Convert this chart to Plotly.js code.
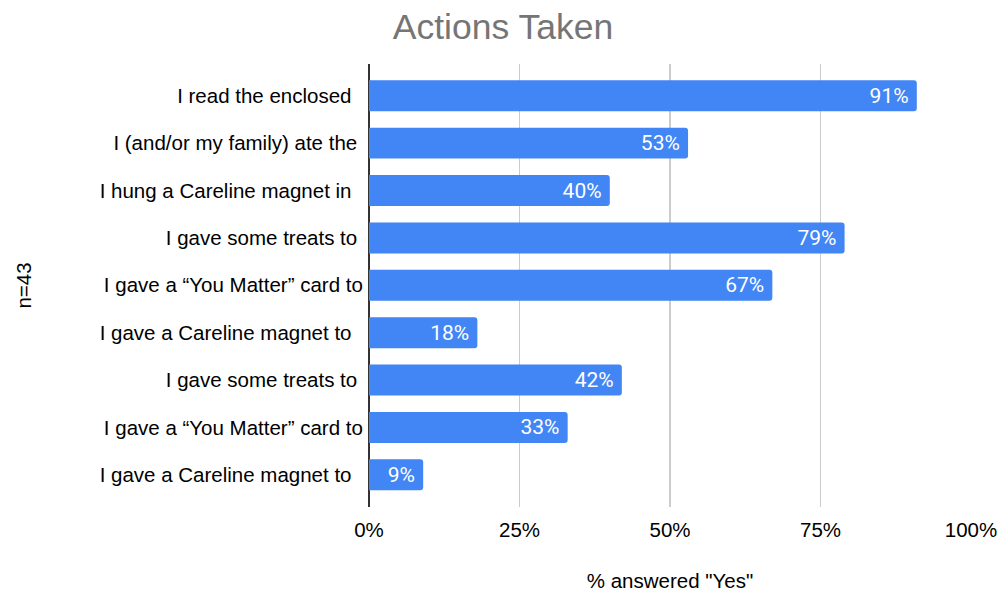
<!DOCTYPE html>
<html>
<head>
<meta charset="utf-8">
<script src="https://cdn.plot.ly/plotly-3.0.1.min.js"></script>
<style>
  html, body { margin: 0; padding: 0; background: #fff; }
  #chart { width: 1006px; height: 592px; }
</style>
</head>
<body>
<div id="chart"></div>
<script>
// ---- data ----
const categories = [
  "I read the enclosed",
  "I (and/or my family) ate the",
  "I hung a Careline magnet in",
  "I gave some treats to",
  "I gave a “You Matter” card to",
  "I gave a Careline magnet to",
  "I gave some treats to",
  "I gave a “You Matter” card to",
  "I gave a Careline magnet to"
];
const values = [0.91, 0.53, 0.40, 0.79, 0.67, 0.18, 0.42, 0.33, 0.09];
const chartTitle = "Actions Taken";
const xTitle = "% answered \"Yes\"";
const yTitle = "n=43";

// trailing spacing in the original labels (number of spaces)
const labelPad = [2, 1, 2, 1, 0, 2, 1, 0, 2];

const positions = categories.map((_, i) => i);
const tickText = categories.map((c, i) => c + "\u00a0".repeat(labelPad[i]));

const trace = {
  type: "bar",
  orientation: "h",
  x: values,
  y: positions,
  marker: { color: "#4285f4" },
  texttemplate: "%{x:.0%}\u00a0",
  textposition: "inside",
  insidetextanchor: "end",
  textfont: { family: "Roboto, Arial, sans-serif", size: 21, color: "#ffffff" },
  hoverinfo: "skip",
  cliponaxis: false
};

const baseFont = "Liberation Sans, Arial, sans-serif";

const layout = {
  width: 1006,
  height: 592,
  margin: { l: 369, r: 35, t: 64, b: 85, pad: 0 },
  paper_bgcolor: "#ffffff",
  plot_bgcolor: "#ffffff",
  showlegend: false,
  bargap: 0.346,
  barcornerradius: 3,
  font: { family: baseFont, size: 20.5, color: "#000000" },
  title: {
    text: chartTitle,
    font: { family: baseFont, size: 35.5, color: "#757575" },
    xref: "container", x: 0.5, xanchor: "center",
    yref: "container", y: 1 - 27 / 592, yanchor: "middle"
  },
  xaxis: {
    range: [0, 1],
    tickvals: [0, 0.25, 0.5, 0.75, 1],
    tickformat: ".0%",
    showgrid: true,
    gridcolor: "#cccccc",
    gridwidth: 1.5,
    zeroline: true,
    zerolinecolor: "#333333",
    zerolinewidth: 1.5,
    showline: false,
    ticks: "outside",
    ticklen: 4,
    tickcolor: "rgba(0,0,0,0)",
    tickfont: { family: baseFont, size: 20.5, color: "#000000" },
    title: {
      text: xTitle,
      font: { family: baseFont, size: 20.5, color: "#000000" },
      standoff: 38
    },
    fixedrange: true
  },
  yaxis: {
    range: [8.68, -0.67],
    tickvals: positions,
    ticktext: tickText,
    showgrid: false,
    zeroline: false,
    showline: false,
    ticks: "outside",
    ticklen: 1,
    tickcolor: "rgba(0,0,0,0)",
    tickfont: { family: baseFont, size: 20.5, color: "#000000" },
    title: {
      text: yTitle,
      font: { family: baseFont, size: 20.5, color: "#000000" },
      standoff: 62
    },
    fixedrange: true
  }
};

Plotly.newPlot("chart", [trace], layout, { staticPlot: true, displayModeBar: false });
</script>
</body>
</html>
